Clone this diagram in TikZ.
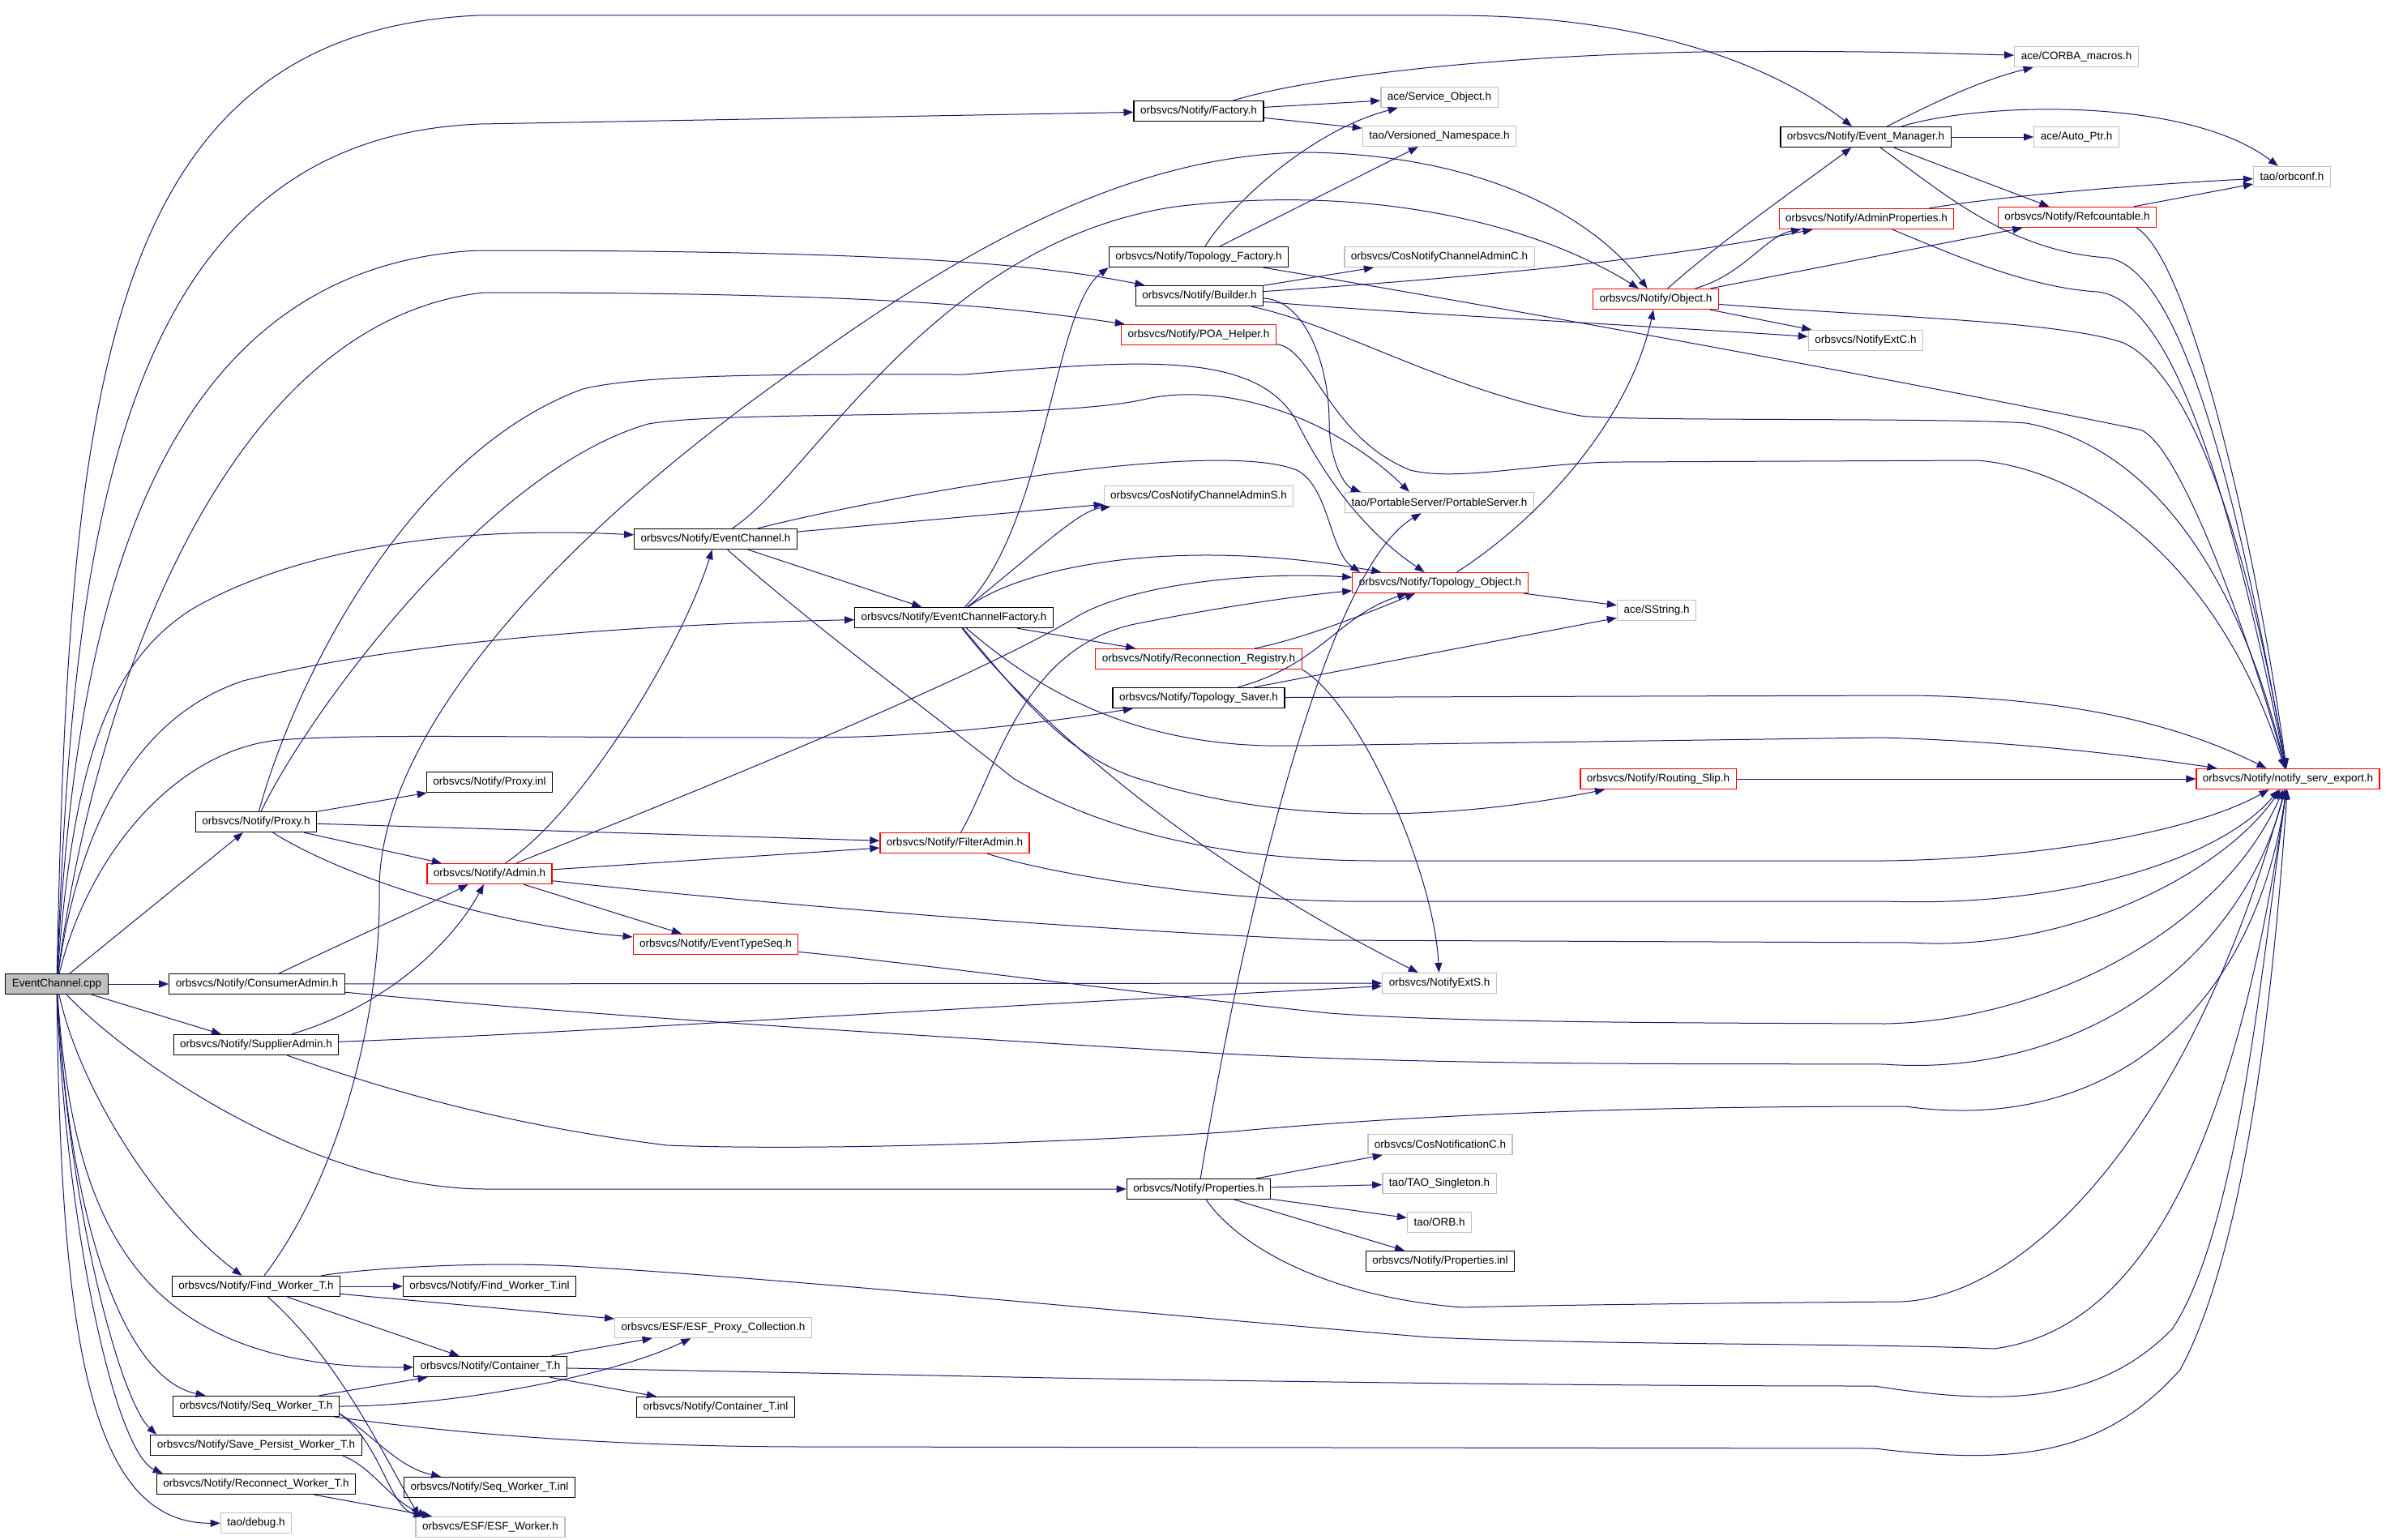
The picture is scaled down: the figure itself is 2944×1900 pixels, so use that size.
\documentclass[tikz,border=0pt]{standalone}
\usepackage{fontspec}
\setmainfont{Liberation Sans}
\usepackage{tikz}
\usetikzlibrary{arrows.meta}
\definecolor{edgeblue}{RGB}{25,25,112}

\begin{document}
\begin{tikzpicture}
  [x=1pt,y=-1pt,
   every node/.style={rectangle,draw=black,line width=1.3pt,fill=white,
     font=\fontsize{13.5}{16}\selectfont,inner xsep=8pt,inner ysep=0pt,minimum height=25pt},
   undoc/.style={draw=gray!50},
   trunc/.style={draw=red},
   root/.style={fill=gray!50},
   inc/.style={draw=edgeblue,line width=1pt,-{Triangle[length=12pt,width=9pt]}}]

  \useasboundingbox (0,0) rectangle (2944,1900);

  \node (cpp) [root] at (70,1214) {EventChannel.cpp};
  \node (factory) at (1479,137) {orbsvcs/Notify/Factory.h};
  \node (serviceobj) [undoc] at (1776,120) {ace/Service\_Object.h};
  \node (versioned) [undoc] at (1776,168) {tao/Versioned\_Namespace.h};
  \node (corba) [undoc] at (2562,70) {ace/CORBA\_macros.h};
  \node (evmgr) at (2302,169) {orbsvcs/Notify/Event\_Manager.h};
  \node (autoptr) [undoc] at (2562,169) {ace/Auto\_Ptr.h};
  \node (orbconf) [undoc] at (2828,218) {tao/orbconf.h};
  \node (adminprop) [trunc] at (2303,270) {orbsvcs/Notify/AdminProperties.h};
  \node (refcount) [trunc] at (2563,268) {orbsvcs/Notify/Refcountable.h};
  \node (topofactory) at (1479,317) {orbsvcs/Notify/Topology\_Factory.h};
  \node (cosadminc) [undoc] at (1776,317) {orbsvcs/CosNotifyChannelAdminC.h};
  \node (builder) at (1480,365) {orbsvcs/Notify/Builder.h};
  \node (object) [trunc] at (2043,369) {orbsvcs/Notify/Object.h};
  \node (poahelper) [trunc] at (1479,413) {orbsvcs/Notify/POA\_Helper.h};
  \node (extc) [undoc] at (2302,420) {orbsvcs/NotifyExtC.h};
  \node (cosadmins) [undoc] at (1479,612) {orbsvcs/CosNotifyChannelAdminS.h};
  \node (portable) [undoc] at (1776,620) {tao/PortableServer/PortableServer.h};
  \node (ec) at (883,665) {orbsvcs/Notify/EventChannel.h};
  \node (topoobj) [trunc] at (1777,719) {orbsvcs/Notify/Topology\_Object.h};
  \node (sstring) [undoc] at (2044,753) {ace/SString.h};
  \node (ecf) at (1177,762) {orbsvcs/Notify/EventChannelFactory.h};
  \node (reconreg) [trunc] at (1479,813) {orbsvcs/Notify/Reconnection\_Registry.h};
  \node (toposaver) at (1479,861) {orbsvcs/Notify/Topology\_Saver.h};
  \node (routing) [trunc] at (2046,961) {orbsvcs/Notify/Routing\_Slip.h};
  \node (servexport) [trunc] at (2823,961) {orbsvcs/Notify/notify\_serv\_export.h};
  \node (proxyinl) at (604,965) {orbsvcs/Notify/Proxy.inl};
  \node (proxy) at (316,1014) {orbsvcs/Notify/Proxy.h};
  \node (filteradmin) [trunc] at (1178,1040) {orbsvcs/Notify/FilterAdmin.h};
  \node (admin) [trunc] at (604,1078) {orbsvcs/Notify/Admin.h};
  \node (ets) [trunc] at (883,1165) {orbsvcs/Notify/EventTypeSeq.h};
  \node (consumer) at (317,1214) {orbsvcs/Notify/ConsumerAdmin.h};
  \node (exts) [undoc] at (1776,1213) {orbsvcs/NotifyExtS.h};
  \node (supplier) at (316,1289) {orbsvcs/Notify/SupplierAdmin.h};
  \node (cosnotc) [undoc] at (1777,1412) {orbsvcs/CosNotificationC.h};
  \node (properties) at (1479,1467) {orbsvcs/Notify/Properties.h};
  \node (singleton) [undoc] at (1776,1460) {tao/TAO\_Singleton.h};
  \node (orb) [undoc] at (1776,1508) {tao/ORB.h};
  \node (propinl) at (1777,1556) {orbsvcs/Notify/Properties.inl};
  \node (findw) at (316,1587) {orbsvcs/Notify/Find\_Worker\_T.h};
  \node (findinl) at (604,1587) {orbsvcs/Notify/Find\_Worker\_T.inl};
  \node (esfproxy) [undoc] at (880,1638) {orbsvcs/ESF/ESF\_Proxy\_Collection.h};
  \node (container) at (605,1686) {orbsvcs/Notify/Container\_T.h};
  \node (seqw) at (316,1735) {orbsvcs/Notify/Seq\_Worker\_T.h};
  \node (containerinl) at (883,1736) {orbsvcs/Notify/Container\_T.inl};
  \node (savep) at (316,1783) {orbsvcs/Notify/Save\_Persist\_Worker\_T.h};
  \node (reconw) at (316,1831) {orbsvcs/Notify/Reconnect\_Worker\_T.h};
  \node (seqinl) at (604,1835) {orbsvcs/Notify/Seq\_Worker\_T.inl};
  \node (debug) [undoc] at (316,1879) {tao/debug.h};
  \node (esfworker) [undoc] at (605,1884) {orbsvcs/ESF/ESF\_Worker.h};

  % EventChannel.cpp
  \draw[inc] (cpp) .. controls (85,500) and (120,40) .. (590,19) -- (1790,19) .. controls (2050,19) and (2200,90) .. (evmgr);
  \draw[inc] (cpp) .. controls (90,700) and (130,170) .. (593,153) -- (factory);
  \draw[inc] (cpp) .. controls (90,800) and (170,330) .. (590,309) .. controls (1150,309) and (1300,330) .. (builder);
  \draw[inc] (cpp) .. controls (110,900) and (260,400) .. (596,361) .. controls (1100,361) and (1250,380) .. (poahelper);
  \draw[inc] (cpp) .. controls (90,950) and (130,820) .. (236,752) .. controls (360,680) and (550,648) .. (ec);
  \draw[inc] (cpp) .. controls (100,1000) and (180,880) .. (300,840) .. controls (500,790) and (800,770) .. (ecf);
  \draw[inc] (cpp) .. controls (110,1050) and (220,925) .. (344,913) .. controls (450,905) and (600,910) .. (1000,910) .. controls (1150,910) and (1300,890) .. (toposaver);
  \draw[inc] (cpp) -- (proxy);
  \draw[inc] (cpp) -- (consumer);
  \draw[inc] (cpp) -- (supplier);
  \draw[inc] (cpp) .. controls (150,1300) and (380,1467) .. (600,1467) -- (properties);
  \draw[inc] (cpp) .. controls (100,1350) and (200,1500) .. (findw);
  \draw[inc] (cpp) .. controls (90,1500) and (160,1690) .. (container);
  \draw[inc] (cpp) .. controls (85,1500) and (150,1700) .. (seqw);
  \draw[inc] (cpp) .. controls (85,1500) and (150,1730) .. ([xshift=8pt]savep.north west);
  \draw[inc] (cpp) .. controls (80,1500) and (140,1790) .. ([xshift=8pt]reconw.north west);
  \draw[inc] (cpp) .. controls (75,1650) and (110,1880) .. (debug);

  % EventChannel.h
  \draw[inc] (ec) .. controls (1000,590) and (1150,300) .. (1450,255) .. controls (1700,225) and (1900,280) .. (object);
  \draw[inc] (ec) -- (cosadmins);
  \draw[inc] (ec) -- (ecf);
  \draw[inc] (ec) .. controls (1100,610) and (1500,540) .. (1600,580) .. controls (1640,600) and (1640,680) .. ([xshift=10pt]topoobj.north west);
  \draw[inc] (ec) .. controls (1000,770) and (1150,880) .. (1250,960) .. controls (1350,1020) and (1500,1062) .. (1700,1062) -- (2325,1062) .. controls (2500,1060) and (2700,1030) .. (servexport);

  % EventChannelFactory.h
  \draw[inc] (ecf) .. controls (1290,650) and (1300,380) .. (topofactory.south west);
  \draw[inc] (ecf) .. controls (1280,680) and (1330,630) .. (cosadmins);
  \draw[inc] (ecf) .. controls (1260,700) and (1450,660) .. (topoobj);
  \draw[inc] (ecf) -- (reconreg);
  \draw[inc] (ecf) .. controls (1260,860) and (1320,940) .. (1420,965) .. controls (1600,1020) and (1800,1010) .. (routing);
  \draw[inc] (ecf) .. controls (1260,870) and (1450,1050) .. (exts);
  \draw[inc] (ecf) .. controls (1280,850) and (1400,925) .. (1600,920) -- (2320,910) .. controls (2500,915) and (2650,935) .. (servexport);

  % Factory.h, Topology_Factory.h, Builder.h, POA_Helper.h
  \draw[inc] (factory) -- (serviceobj);
  \draw[inc] (factory) -- (versioned);
  \draw[inc] (factory) .. controls (1600,100) and (1800,70) .. (2100,64) .. controls (2300,62) and (2400,66) .. (corba);
  \draw[inc] (topofactory) .. controls (1520,250) and (1620,160) .. (serviceobj);
  \draw[inc] (topofactory) -- (versioned);
  \draw[inc] (topofactory) .. controls (1800,370) and (2300,460) .. (2640,530) .. controls (2690,545) and (2780,800) .. (servexport);
  \draw[inc] (builder) -- (cosadminc);
  \draw[inc] (builder) .. controls (1700,350) and (2000,330) .. (adminprop);
  \draw[inc] (builder) .. controls (1700,385) and (2000,400) .. (extc);
  \draw[inc] (builder) .. controls (1650,400) and (1780,480) .. (1950,513) .. controls (2000,520) and (2400,515) .. (2500,522) .. controls (2650,550) and (2760,700) .. (servexport);
  \draw[inc] (builder) .. controls (1610,370) and (1640,450) .. (1640,520) .. controls (1640,570) and (1660,600) .. ([xshift=20pt]portable.north west);
  \draw[inc] (poahelper) .. controls (1620,430) and (1640,540) .. (1740,580) .. controls (1800,595) and (1900,570) .. (2000,570) -- (2440,568) .. controls (2580,580) and (2740,700) .. (servexport);

  % Object.h, Event_Manager.h
  \draw[inc] (object) .. controls (2120,300) and (2220,230) .. (evmgr);
  \draw[inc] (object) .. controls (2150,340) and (2180,290) .. (adminprop);
  \draw[inc] (object) -- (refcount);
  \draw[inc] (object) -- (extc);
  \draw[inc] (object) .. controls (2300,390) and (2540,395) .. (2620,423) .. controls (2700,460) and (2770,650) .. (servexport);
  \draw[inc] (evmgr) .. controls (2380,130) and (2440,100) .. (corba);
  \draw[inc] (evmgr) -- (autoptr);
  \draw[inc] (evmgr) .. controls (2450,125) and (2700,120) .. (orbconf);
  \draw[inc] (evmgr) -- (refcount);
  \draw[inc] (evmgr) .. controls (2400,240) and (2480,310) .. (2600,318) .. controls (2690,330) and (2760,600) .. (servexport);
  \draw[inc] (adminprop) .. controls (2450,245) and (2600,230) .. (orbconf);
  \draw[inc] (adminprop) .. controls (2400,310) and (2500,355) .. (2588,360) .. controls (2680,370) and (2750,600) .. (servexport);
  \draw[inc] (refcount) -- (orbconf);
  \draw[inc] ([xshift=-25pt]refcount.south east) .. controls (2700,320) and (2780,650) .. (servexport);

  % Topology_Object.h, Reconnection_Registry.h, Topology_Saver.h, Routing_Slip.h
  \draw[inc] (topoobj) .. controls (1900,640) and (2010,520) .. (object);
  \draw[inc] (topoobj) -- (sstring);
  \draw[inc] (reconreg) .. controls (1600,790) and (1680,760) .. (topoobj);
  \draw[inc] (reconreg.south east) .. controls (1680,870) and (1770,1080) .. (exts);
  \draw[inc] (toposaver) .. controls (1630,820) and (1650,760) .. (topoobj);
  \draw[inc] (toposaver) -- (sstring);
  \draw[inc] (toposaver) .. controls (1700,860) and (2000,859) .. (2364,858) .. controls (2550,862) and (2680,890) .. (servexport);
  \draw[inc] (routing) -- (servexport);

  % Proxy.h, Admin.h, FilterAdmin.h, EventTypeSeq.h
  \draw[inc] (proxy) -- (proxyinl);
  \draw[inc] (proxy) -- (filteradmin);
  \draw[inc] (proxy) -- (admin);
  \draw[inc] (proxy) .. controls (420,1080) and (600,1140) .. (ets);
  \draw[inc] (proxy) .. controls (360,850) and (500,560) .. (719,480) .. controls (800,460) and (1000,462) .. (1190,462) .. controls (1400,445) and (1550,430) .. (1600,520) .. controls (1640,600) and (1690,660) .. (topoobj);
  \draw[inc] (proxy) .. controls (380,880) and (600,580) .. (800,523) .. controls (900,505) and (1300,520) .. (1415,492) .. controls (1520,470) and (1650,520) .. ([xshift=80pt]portable.north west);
  \draw[inc] (admin) .. controls (720,1000) and (840,800) .. (ec);
  \draw[inc] (admin) .. controls (800,1000) and (1200,840) .. (1330,760) .. controls (1400,720) and (1550,705) .. (topoobj);
  \draw[inc] (admin) -- (filteradmin);
  \draw[inc] (admin) -- (ets);
  \draw[inc] (admin) .. controls (800,1100) and (1200,1140) .. (1640,1160) -- (2357,1163) .. controls (2550,1175) and (2740,1080) .. (servexport);
  \draw[inc] (filteradmin) .. controls (1230,950) and (1260,800) .. (1400,770) .. controls (1500,750) and (1600,735) .. (topoobj);
  \draw[inc] (filteradmin) .. controls (1300,1080) and (1500,1110) .. (1660,1112) -- (2325,1112) .. controls (2550,1120) and (2740,1060) .. (servexport);
  \draw[inc] (ets) .. controls (1100,1185) and (1400,1225) .. (1640,1250) .. controls (1800,1262) and (2100,1262) .. (2325,1263) .. controls (2520,1260) and (2740,1150) .. (servexport);

  % ConsumerAdmin.h, SupplierAdmin.h
  \draw[inc] (consumer) .. controls (430,1160) and (520,1120) .. (admin);
  \draw[inc] (consumer) -- (exts);
  \draw[inc] (consumer) .. controls (700,1250) and (1000,1270) .. (1510,1300) .. controls (1800,1315) and (2100,1312) .. (2325,1313) .. controls (2550,1330) and (2760,1200) .. (servexport);
  \draw[inc] (supplier) .. controls (480,1240) and (560,1160) .. (admin);
  \draw[inc] (supplier) .. controls (700,1275) and (1000,1253) .. (exts);
  \draw[inc] (supplier) .. controls (450,1335) and (600,1385) .. (823,1413) .. controls (1000,1420) and (1300,1410) .. (1510,1397) .. controls (1800,1370) and (2100,1365) .. (2351,1365) .. controls (2600,1400) and (2780,1250) .. (servexport);

  % Properties.h
  \draw[inc] (properties) .. controls (1540,1100) and (1640,700) .. (portable);
  \draw[inc] (properties) -- (cosnotc);
  \draw[inc] (properties) -- (singleton);
  \draw[inc] (properties) -- (orb);
  \draw[inc] (properties) -- (propinl);
  \draw[inc] (properties) .. controls (1530,1540) and (1640,1600) .. (1804,1613) .. controls (1900,1610) and (2200,1607) .. (2345,1606) .. controls (2500,1600) and (2700,1400) .. (servexport);

  % workers and containers
  \draw[inc] (findw) .. controls (420,1450) and (470,1250) .. (468,1100) .. controls (466,900) and (700,650) .. (1000,443) .. controls (1200,300) and (1400,190) .. (1612,188) .. controls (1800,190) and (1950,250) .. (object);
  \draw[inc] (findw) -- (findinl);
  \draw[inc] (findw) -- (esfproxy);
  \draw[inc] (findw) -- (container);
  \draw[inc] (findw) .. controls (420,1680) and (470,1790) .. ([xshift=5pt]esfworker.north west);
  \draw[inc] (findw) .. controls (450,1565) and (600,1555) .. (721,1563) .. controls (1000,1580) and (1400,1620) .. (1765,1650) .. controls (2000,1660) and (2300,1657) .. (2460,1664) .. controls (2650,1640) and (2760,1400) .. (servexport);
  \draw[inc] (container) -- (esfproxy);
  \draw[inc] (container) -- (containerinl);
  \draw[inc] (container) .. controls (800,1690) and (1000,1694) .. (1300,1700) .. controls (1800,1708) and (2100,1710) .. (2313,1710) .. controls (2500,1740) and (2600,1720) .. (2680,1640) .. controls (2760,1520) and (2790,1200) .. (servexport);
  \draw[inc] (seqw) -- (container);
  \draw[inc] (seqw) .. controls (550,1735) and (750,1700) .. (esfproxy);
  \draw[inc] ([yshift=4pt]seqw.south east) .. controls (460,1770) and (490,1810) .. (seqinl);
  \draw[inc] ([yshift=4pt]seqw.south east) .. controls (470,1780) and (480,1860) .. ([xshift=10pt]esfworker.north west);
  \draw[inc] (seqw) .. controls (500,1760) and (700,1785) .. (1000,1785) -- (2313,1787) .. controls (2500,1810) and (2600,1790) .. (2690,1690) .. controls (2760,1560) and (2800,1300) .. (servexport);
  \draw[inc] ([xshift=-24pt]savep.south east) .. controls (460,1810) and (480,1850) .. ([xshift=15pt]esfworker.north west);
  \draw[inc] (reconw) -- (esfworker);
\end{tikzpicture}
\end{document}
